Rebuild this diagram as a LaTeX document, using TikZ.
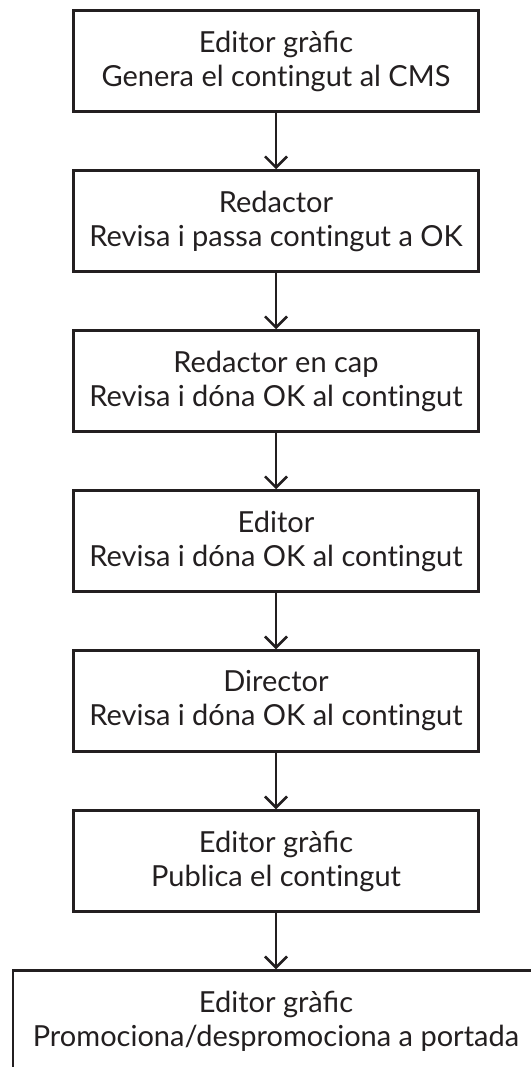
\documentclass[tikz,border=0pt]{standalone}
\usepackage{fontspec}
\setmainfont{Lato}
\usetikzlibrary{arrows.meta}
\definecolor{ink}{HTML}{231F20}
% keep "t" and "i" apart, as the picture prints them
\newcommand{\contingut}{cont\kern0pt ingut}

\begin{document}
\begin{tikzpicture}
[x=1pt, y=1pt, node distance=160pt, font=\fontsize{29}{34}\selectfont, color=ink]

\tikzstyle{task}=[rectangle, draw, line width=2.5pt, align=center, minimum width=405pt, minimum height=101pt, inner sep=0pt]
\tikzstyle{flow}=[line width=2.5pt, -{Straight Barb[length=11pt, width=22pt, line width=2.5pt]}]

\useasboundingbox (0,0) rectangle (530,-1067);

\node[task]	(G1)	at (276,-61)	{Editor gràfic\\Genera el \contingut{} al CMS};
\node[task]	(R1)	[below of=G1]	{Redactor\\Revisa i passa \contingut{} a OK};
\node[task]	(RC)	[below of=R1]	{Redactor en cap\\Revisa i dóna OK al \contingut};
\node[task]	(ED)	[below of=RC]	{Editor\\Revisa i dóna OK al \contingut};
\node[task]	(DI)	[below of=ED]	{Director\\Revisa i dóna OK al \contingut};
\node[task]	(G2)	[below of=DI]	{Editor gràfic\\Publica el \contingut};
\node[task, minimum width=526pt]	(G3)	[below of=G2]	{Editor gràfic\\Promociona/despromociona a portada};

\draw [flow] (G1)--(R1);
\draw [flow] (R1)--(RC);
\draw [flow] (RC)--(ED);
\draw [flow] (ED)--(DI);
\draw [flow] (DI)--(G2);
\draw [flow] (G2)--(G3);
\end{tikzpicture}
\end{document}
